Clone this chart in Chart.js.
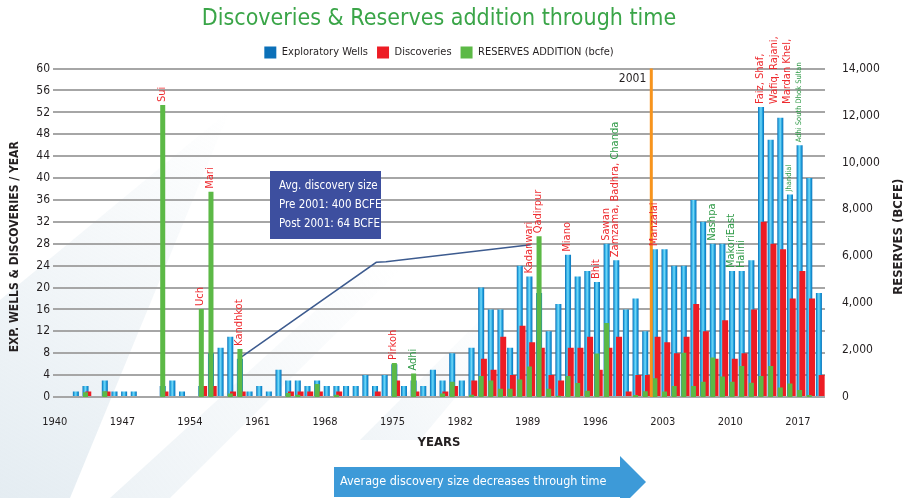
<!DOCTYPE html>
<html>
<head>
<meta charset="utf-8">
<script src="https://cdn.jsdelivr.net/npm/chart.js@4.4.1/dist/chart.umd.min.js"></script>
<style>
  html, body { margin: 0; padding: 0; background: #fff; }
</style>
</head>
<body>
<canvas id="chart" width="909" height="498"></canvas>
<script>
// years on the x axis
const years = [
  1940, 1941, 1942, 1943, 1944, 1945, 1946, 1947, 1948, 1949,
  1950, 1951, 1952, 1953, 1954, 1955, 1956, 1957, 1958, 1959,
  1960, 1961, 1962, 1963, 1964, 1965, 1966, 1967, 1968, 1969,
  1970, 1971, 1972, 1973, 1974, 1975, 1976, 1977, 1978, 1979,
  1980, 1981, 1982, 1983, 1984, 1985, 1986, 1987, 1988, 1989,
  1990, 1991, 1992, 1993, 1994, 1995, 1996, 1997, 1998, 1999,
  2000, 2001, 2002, 2003, 2004, 2005, 2006, 2007, 2008, 2009,
  2010, 2011, 2012, 2013, 2014, 2015, 2016, 2017, 2018, 2019
];

// exploratory wells per year
const wells = [
  0, 0, 1, 2, 0, 3, 1, 1, 1, 0,
  0, 2, 3, 1, 0, 2, 8, 9, 11, 7,
  1, 2, 1, 5, 3, 3, 2, 3, 2, 2,
  2, 2, 4, 2, 4, 6, 2, 3, 2, 5,
  3, 8, 3, 9, 20, 16, 16, 9, 24, 22,
  19, 12, 17, 26, 22, 23, 21, 28, 25, 16,
  18, 12, 27, 27, 24, 24, 36, 32, 28, 28,
  23, 23, 25, 53, 47, 51, 37, 46, 40, 19
];

// discoveries per year
const discoveries = [
  0, 0, 0, 1, 0, 1, 0, 0, 0, 0,
  0, 1, 0, 0, 0, 2, 2, 0, 1, 1,
  0, 0, 0, 0, 1, 1, 1, 1, 0, 1,
  0, 0, 0, 1, 0, 3, 0, 1, 0, 0,
  1, 2, 0, 3, 7, 5, 11, 4, 13, 10,
  9, 4, 3, 9, 9, 11, 5, 9, 11, 1,
  4, 4, 11, 10, 8, 11, 17, 12, 7, 14,
  7, 8, 16, 32, 28, 27, 18, 23, 18, 4
];

// reserves addition, bcfe (right axis)
const reserves = [
  0, 0, 0, 200, 0, 250, 0, 0, 0, 0,
  0, 12450, 0, 0, 0, 3750, 8750, 0, 150, 2050,
  0, 0, 0, 0, 170, 100, 0, 550, 0, 100,
  0, 0, 0, 0, 0, 1450, 0, 1000, 0, 0,
  150, 650, 0, 100, 900, 700, 350, 350, 750, 1300,
  6850, 350, 50, 900, 600, 270, 1850, 3150, 0, 0,
  80, 250, 800, 230, 470, 1890, 470, 650, 1680, 870,
  650, 1320, 610, 900, 1320, 400, 580, 300, 80, 0
];

// hand drawn trend line (left axis units)
const trend = [
  null, null, null, null, null, null, null, null, null, null,
  null, null, null, null, null, null, null, null, null, 7.3,
  null, null, null, null, null, null, null, null, null, null,
  null, null, null, 24.6, 24.7, null, null, null, null, null,
  null, null, null, null, null, null, null, null, null, 27.8,
  null, null, null, null, null, null, null, null, null, null,
  null, null, null, null, null, null, null, null, null, null,
  null, null, null, null, null, null, null, null, null, null
];

const wellTicks = [0, 4, 8, 12, 16, 20, 24, 28, 32, 36, 40, 44, 48, 52, 56, 60];
const reserveTicks = [0, 2000, 4000, 6000, 8000, 10000, 12000, 14000];
const markerYear = 2001;

// field names: [year, line, line...], line = [[kind, text], ...]  d = discovery, r = reserves
const fieldNames = [
  [1951, [['d', 'Sui']]],
  [1955, [['d', 'Uch']]],
  [1956, [['d', 'Mari']]],
  [1959, [['d', 'Kandhkot']]],
  [1975, [['d', 'Pirkoh']]],
  [1977, [['r', 'Adhi']]],
  [1989, [['d', 'Kadanwari']]],
  [1990, [['d', 'Qadirpur']]],
  [1993, [['d', 'Miano']]],
  [1996, [['d', 'Bhit']]],
  [1997, [['d', 'Sawan']]],
  [1998, [['d', 'Zamzama, Badhra, '], ['r', 'Chanda']]],
  [2002, [['d', 'Manzalai']]],
  [2008, [['r', 'Nashpa']]],
  [2010, [['r', 'MakoriEast']]],
  [2011, [['r', 'Halini']]],
  [2013, [['d', 'Faiz, Shaf,']], [['d', 'Wafiq, Rajani,']], [['d', 'Mardan Khel,']]],
  [2016, [['r', 'Jhandial']]],
  [2017, [['r', 'Adhi South Dhok Sultan']]]
];

const NARROW = "'Liberation Sans Narrow', 'DejaVu Sans Condensed', 'Roboto Condensed', sans-serif";
const TEXT = '#231f20';
const BLUE = '#1c9ad6';
const RED = '#ed1c24';
const GREEN = '#5cb946';
const smallNames = ['Jhandial', 'Adhi South Dhok Sultan'];

Chart.defaults.font.family = NARROW;
Chart.defaults.color = TEXT;

// cylinder look for the wells bars
function wellFill(c) {
  const x = c.chart.scales.x;
  if (c.type !== 'data' || !x) return BLUE;
  const cx = x.getPixelForValue(c.dataIndex) - 1.25;
  if (!isFinite(cx)) return BLUE;
  const g = c.chart.ctx.createLinearGradient(cx - 3, 0, cx + 3, 0);
  g.addColorStop(0, '#0a6db5');
  g.addColorStop(0.3, '#3dbdee');
  g.addColorStop(0.5, '#74d6f6');
  g.addColorStop(0.75, '#1d9fdc');
  g.addColorStop(1, '#0b70b8');
  return g;
}

// faint diagonal streaks behind the chart, fading towards the top right
function band(ctx, pts, alpha) {
  const g = ctx.createLinearGradient(pts[0][0], pts[0][1], pts[2][0], pts[2][1]);
  g.addColorStop(0, 'rgba(196,214,226,' + alpha + ')');
  g.addColorStop(1, 'rgba(196,214,226,0)');
  ctx.fillStyle = g;
  ctx.beginPath();
  pts.forEach(([px, py], n) => (n ? ctx.lineTo(px, py) : ctx.moveTo(px, py)));
  ctx.closePath();
  ctx.fill();
}

const decor = {
  id: 'decor',
  beforeDraw(chart) {
    const { ctx } = chart;
    ctx.save();
    band(ctx, [[0, 498], [0, 300], [230, 110], [70, 498]], 0.45);
    band(ctx, [[110, 498], [170, 498], [400, 270], [360, 270]], 0.3);
    band(ctx, [[360, 440], [420, 440], [520, 320], [480, 320]], 0.25);
    ctx.restore();
  },
  afterDatasetsDraw(chart) {
    const { ctx, chartArea: a, scales: { x, y, y1 } } = chart;

    // 2001 marker
    const i = years.indexOf(markerYear);
    const lx = (x.getPixelForValue(i) + x.getPixelForValue(i + 1)) / 2;
    ctx.save();
    ctx.strokeStyle = '#f7941d';
    ctx.lineWidth = 3;
    ctx.beginPath();
    ctx.moveTo(lx, a.top);
    ctx.lineTo(lx, a.bottom);
    ctx.stroke();
    ctx.fillStyle = TEXT;
    ctx.font = '12px ' + NARROW;
    ctx.textAlign = 'right';
    ctx.textBaseline = 'middle';
    ctx.fillText(String(markerYear), lx - 5, a.top + 10);
    ctx.restore();

    // field names above the bars
    fieldNames.forEach(([year, ...lines]) => {
      const k = years.indexOf(year);
      const top = Math.min(y.getPixelForValue(wells[k]), y1.getPixelForValue(reserves[k]));
      const cx = x.getPixelForValue(k) - 2;
      ctx.save();
      ctx.translate(cx, top - 3);
      ctx.rotate(-Math.PI / 2);
      ctx.textAlign = 'left';
      ctx.textBaseline = 'middle';
      lines.forEach((parts, n) => {
        let tx = 0;
        parts.forEach(([kind, text]) => {
          ctx.font = (smallNames.includes(text) ? '7.5px ' : '11px ') + NARROW;
          ctx.fillStyle = kind === 'd' ? '#ee2a2e' : '#2f9a47';
          ctx.fillText(text, tx, n * 13.5);
          tx += ctx.measureText(text).width;
        });
      });
      ctx.restore();
    });
  },
  afterDraw(chart) {
    const { ctx, chartArea: a } = chart;
    const midY = (a.top + a.bottom) / 2;
    ctx.save();
    ctx.fillStyle = TEXT;
    ctx.font = 'bold 12px ' + NARROW;
    ctx.textAlign = 'center';
    ctx.textBaseline = 'middle';
    ctx.translate(15, midY + 14);
    ctx.rotate(-Math.PI / 2);
    ctx.fillText('EXP. WELLS & DISCOVERIES / YEAR', 0, 0);
    ctx.restore();

    ctx.save();
    ctx.fillStyle = TEXT;
    ctx.font = 'bold 13px ' + NARROW;
    ctx.textAlign = 'center';
    ctx.textBaseline = 'middle';
    ctx.translate(899, midY + 4);
    ctx.rotate(-Math.PI / 2);
    ctx.fillText('RESERVES (BCFE)', 0, 0);
    ctx.restore();

    // note box
    ctx.save();
    ctx.fillStyle = '#3d4f9f';
    ctx.fillRect(270, 171, 111, 68);
    ctx.fillStyle = '#fff';
    ctx.font = '11.5px ' + NARROW;
    ctx.textAlign = 'left';
    ctx.textBaseline = 'middle';
    ctx.fillText('Avg. discovery size', 279, 186);
    ctx.fillText('Pre 2001: 400 BCFE', 279, 205);
    ctx.fillText('Post 2001: 64 BCFE', 279, 224);
    ctx.restore();

    // arrow
    ctx.save();
    ctx.fillStyle = '#3d9ad8';
    ctx.beginPath();
    ctx.moveTo(334, 467);
    ctx.lineTo(620, 467);
    ctx.lineTo(620, 456);
    ctx.lineTo(646, 482);
    ctx.lineTo(620, 508);
    ctx.lineTo(620, 497);
    ctx.lineTo(334, 497);
    ctx.closePath();
    ctx.fill();
    ctx.fillStyle = '#fff';
    ctx.font = '12.5px ' + NARROW;
    ctx.textAlign = 'left';
    ctx.textBaseline = 'middle';
    ctx.fillText('Average discovery size decreases through time', 340, 482);
    ctx.restore();
  }
};

new Chart(document.getElementById('chart'), {
  type: 'bar',
  data: {
    labels: years,
    datasets: [
      {
        label: 'RESERVES ADDITION (bcfe)',
        data: reserves,
        yAxisID: 'y1',
        stack: 'a',
        backgroundColor: GREEN,
        categoryPercentage: 0.52,
        barPercentage: 2.0
      },
      {
        label: 'Discoveries',
        data: discoveries,
        yAxisID: 'y',
        stack: 'b',
        backgroundColor: RED,
        categoryPercentage: 0.62,
        barPercentage: 2.0
      },
      {
        label: 'Exploratory Wells',
        data: wells,
        yAxisID: 'y',
        stack: 'a',
        backgroundColor: wellFill,
        categoryPercentage: 0.52,
        barPercentage: 2.4
      },
      {
        type: 'line',
        label: 'trend',
        data: trend,
        yAxisID: 'y',
        spanGaps: true,
        borderColor: '#3d5b8f',
        borderWidth: 1.5,
        pointRadius: 0,
        tension: 0
      }
    ]
  },
  options: {
    responsive: false,
    animation: false,
    layout: { padding: { left: 0, right: 0, top: 0, bottom: 48 } },
    scales: {
      x: {
        grid: { display: false },
        border: { display: false },
        ticks: {
          autoSkip: false,
          maxRotation: 0,
          padding: 11,
          labelOffset: -3,
          font: { size: 11 },
          callback: (v, i) => ((years[i] - 1940) % 7 === 0 ? String(years[i]) : '')
        },
        title: {
          display: true,
          text: 'YEARS',
          font: { size: 13, weight: 'bold' },
          padding: { top: 0, bottom: 0 }
        },
        afterFit: (s) => { s.height = 53; }
      },
      y: {
        position: 'left',
        min: 0,
        max: 60,
        stacked: false,
        afterBuildTicks: (s) => { s.ticks = wellTicks.map(v => ({ value: v })); },
        grid: { color: '#a6a6a6', lineWidth: 2, drawTicks: false },
        border: { display: false },
        ticks: { padding: 3, font: { size: 12 } },
        afterFit: (s) => { s.width = 53; }
      },
      y1: {
        position: 'right',
        min: 0,
        max: 14000,
        stacked: false,
        afterBuildTicks: (s) => { s.ticks = reserveTicks.map(v => ({ value: v })); },
        grid: { display: false, drawTicks: false },
        border: { display: false },
        ticks: {
          padding: 17,
          font: { size: 12 },
          callback: (v) => v.toLocaleString('en-US')
        },
        afterFit: (s) => { s.width = 84; }
      }
    },
    plugins: {
      title: {
        display: true,
        fullSize: false,
        text: 'Discoveries & Reserves addition through time',
        color: '#3aa548',
        font: { size: 23, weight: 'normal' },
        padding: { top: 5, bottom: 5 }
      },
      legend: {
        display: true,
        fullSize: false,
        labels: {
          boxWidth: 12,
          boxHeight: 12,
          padding: 9,
          color: TEXT,
          font: { size: 11 },
          filter: (item) => item.text !== 'trend',
          sort: (a, b) => b.datasetIndex - a.datasetIndex
        }
      },
      tooltip: { enabled: false }
    }
  },
  plugins: [decor]
});
</script>
</body>
</html>
